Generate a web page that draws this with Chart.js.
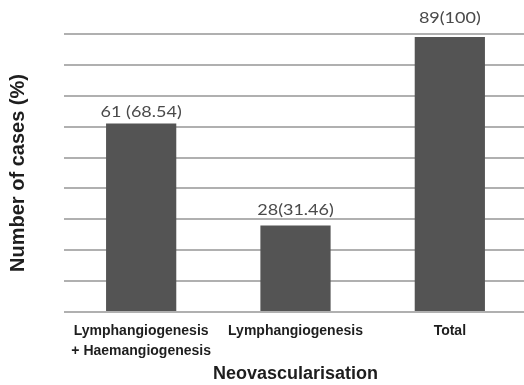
<!DOCTYPE html>
<html>
<head>
<meta charset="utf-8">
<script src="https://cdn.jsdelivr.net/npm/chart.js@4/dist/chart.umd.min.js"></script>
<style>
  html, body { margin: 0; padding: 0; background: #fff; overflow: hidden; }
  #wrap { width: 527px; height: 385px; }
</style>
</head>
<body>
<div id="wrap"><canvas id="c" width="527" height="385"></canvas></div>
<script>
// Neovascularisation cases: counts and share of total
const categories = [
  ['Lymphangiogenesis', '+ Haemangiogenesis'],
  'Lymphangiogenesis',
  'Total'
];
const caseCounts = [61, 28, 89];
const casePercents = ['68.54', '31.46', '100'];
const labelGaps = [' ', '', ''];
const yTicks = { min: 0, max: 90, step: 10 };

// Value text above each bar, e.g. "61 (68.54)"
const valueLabels = caseCounts.map((n, i) => n + labelGaps[i] + '(' + casePercents[i] + ')');

const barValuePlugin = {
  id: 'barValues',
  afterDatasetsDraw(chart, args, opts) {
    const ctx = chart.ctx;
    const meta = chart.getDatasetMeta(0);
    ctx.save();
    ctx.font = opts.font;
    ctx.fillStyle = opts.color;
    ctx.textAlign = 'center';
    ctx.textBaseline = 'middle';
    meta.data.forEach((bar, i) => {
      const y = bar.y - opts.offsets[i];
      ctx.save();
      ctx.translate(bar.x, y);
      ctx.scale(opts.stretch, 1);
      ctx.fillText(valueLabels[i], 0, 0);
      ctx.restore();
    });
    ctx.restore();
  }
};

new Chart(document.getElementById('c'), {
  type: 'bar',
  data: {
    labels: categories,
    datasets: [{
      data: caseCounts,
      backgroundColor: '#545454',
      borderWidth: 0,
      barPercentage: 0.455,
      categoryPercentage: 1.0
    }]
  },
  options: {
    responsive: false,
    animation: false,
    layout: { padding: { top: 34, left: 0, right: 0, bottom: 0 } },
    plugins: {
      legend: { display: false },
      tooltip: { enabled: false },
      barValues: {
        font: '15px Lato',
        color: '#4a4a4a',
        stretch: 1.2,
        offsets: [11, 15, 19]
      }
    },
    scales: {
      x: {
        grid: { display: false, drawTicks: false },
        border: { display: false },
        ticks: {
          color: '#1e1e1e',
          font: { family: '"Liberation Sans", Arial, sans-serif', size: 14, weight: 'bold', lineHeight: 1.43 },
          padding: 9,
          maxRotation: 0,
          autoSkip: false
        },
        title: {
          display: true,
          text: 'Neovascularisation',
          color: '#1e1e1e',
          font: { family: '"Liberation Sans", Arial, sans-serif', size: 18, weight: 'bold', lineHeight: 1.2 },
          padding: { top: 0, bottom: 0 }
        },
        afterFit(scale) { scale.height = 73; }
      },
      y: {
        min: yTicks.min,
        max: yTicks.max,
        ticks: { display: false, stepSize: yTicks.step },
        grid: { color: '#b0b0b0', lineWidth: 2, drawTicks: false },
        border: { display: false },
        title: {
          display: true,
          text: 'Number of cases (%)',
          color: '#1e1e1e',
          font: { family: '"Liberation Sans", Arial, sans-serif', size: 20, weight: 'bold', lineHeight: 1.2 },
          padding: { top: 6.5, bottom: 0 }
        },
        afterFit(scale) { scale.width = 64; }
      }
    }
  },
  plugins: [barValuePlugin]
});
</script>
</body>
</html>
